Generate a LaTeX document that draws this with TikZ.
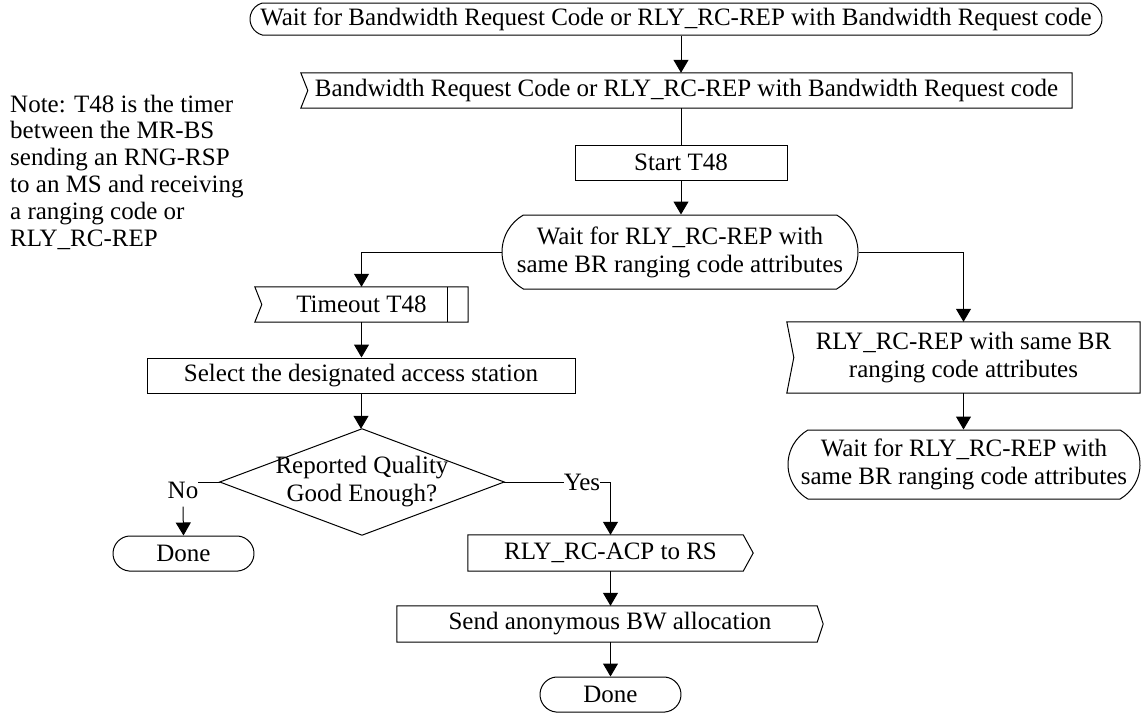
\documentclass[tikz,border=0pt]{standalone}
\usepackage{fontspec}
\setmainfont{Liberation Serif}
\usetikzlibrary{shapes.misc,arrows.meta}
\begin{document}
\begin{tikzpicture}[x=1pt,y=-1pt,
  every node/.style={font=\fontsize{25}{28}\selectfont, inner sep=0pt, align=center},
  box/.style={draw, rectangle, line width=1pt},
  plain/.style={rectangle},
  term/.style={draw, rounded rectangle, line width=1pt},
  arr/.style={-{Triangle[length=13pt,width=15pt]}, line width=1pt},
  ln/.style={line width=1pt},
]
\useasboundingbox (0,0) rectangle (1143,713);

% note
\node[anchor=north west, align=left, font=\fontsize{25}{26.8}\selectfont] (note) at (10,94.5)
  {Note: T48 is the timer\\between the MR-BS\\sending an RNG-RSP\\to an MS and receiving\\a ranging code or\\RLY\_RC-REP};

% top
\node[term, rounded rectangle arc length=150, minimum width=852, minimum height=32] (t1) at (676,19)
  {Wait for Bandwidth Request Code or RLY\_RC-REP with Bandwidth Request code};
\node[plain, minimum width=771, minimum height=35] (s1) at (686.5,90.5)
  {Bandwidth Request Code or RLY\_RC-REP with Bandwidth Request code};
\draw[ln] (s1.north west) -- (s1.north east) -- (s1.south east) -- (s1.south west) -- ([xshift=7pt]s1.west) -- cycle;
\node[box, minimum width=212, minimum height=35] (st) at (681,162.5) {Start T48};
\node[term, rounded rectangle arc length=120, minimum width=356, minimum height=74] (w1) at (680,252)
  {Wait for RLY\_RC-REP with\\same BR ranging code attributes};

% left branch
\node[plain, minimum width=213, minimum height=35] (to) at (361.5,304.5) {Timeout T48};
\draw[ln] (to.north west) -- (to.north east) -- (to.south east) -- (to.south west) -- ([xshift=7pt]to.west) -- cycle;
\draw[ln] ([xshift=-21pt]to.north east) -- ([xshift=-21pt]to.south east);
\node[box, minimum width=428, minimum height=35] (sel) at (361,375.5) {Select the designated access station};
\node[minimum width=284, minimum height=106] (dq) at (362,482) {Reported Quality\\Good Enough?};
\draw[ln] (dq.north) -- (dq.east) -- (dq.south) -- (dq.west) -- cycle;
\node (no) at (183,490) {No};
\node (yes) at (582,482) {Yes};
\node[term, rounded rectangle arc length=170, minimum width=141, minimum height=35] (d1) at (183.5,553.5) {Done};
\node[plain, minimum width=285, minimum height=36] (acp) at (610.5,553) {RLY\_RC-ACP to RS};
\draw[ln] (acp.north west) -- ([xshift=-10pt]acp.north east) -- (acp.east) -- ([xshift=-10pt]acp.south east) -- (acp.south west) -- cycle;
\node[plain, minimum width=426, minimum height=36] (snd) at (610,624) {Send anonymous BW allocation};
\draw[ln] (snd.north west) -- ([xshift=-6pt]snd.north east) -- (snd.east) -- ([xshift=-6pt]snd.south east) -- (snd.south west) -- cycle;
\node[term, rounded rectangle arc length=170, minimum width=141, minimum height=35] (d2) at (610.5,694.5) {Done};

% right branch
\node[plain, minimum width=353, minimum height=71] (rs) at (963.5,357.5)
  {RLY\_RC-REP with same BR\\ranging code attributes};
\draw[ln] (rs.north west) -- (rs.north east) -- (rs.south east) -- (rs.south west) -- ([xshift=7pt]rs.west) -- cycle;
\node[term, rounded rectangle arc length=120, minimum width=352, minimum height=69] (w2) at (964,464.5)
  {Wait for RLY\_RC-REP with\\same BR ranging code attributes};

% connectors
\coordinate (c1) at (681,0);
\draw[arr] (t1.south -| c1) -- (s1.north -| c1);
\draw[ln] (s1.south -| c1) -- (st.north -| c1);
\draw[arr] (st.south) -- (st.south |- w1.north);
\draw[arr] (w1.west) -| (to.north);
\draw[arr] (w1.east) -| (rs.north);
\draw[arr] (rs.south) -- (rs.south |- w2.north);
\draw[arr] (to.south) -- (to.south |- sel.north);
\draw[arr] (sel.south) -- (sel.south |- dq.north);
\draw[ln] (dq.west) -- (no.east |- dq.west);
\draw[arr] ([yshift=-8pt]no.south) -- (d1.north);
\draw[ln] (dq.east) -- (yes.west);
\draw[arr] (yes.east) -| (acp.north);
\draw[arr] (acp.south) -- (snd.north -| acp.south);
\draw[arr] (snd.south -| d2.north) -- (d2.north);
\end{tikzpicture}
\end{document}
